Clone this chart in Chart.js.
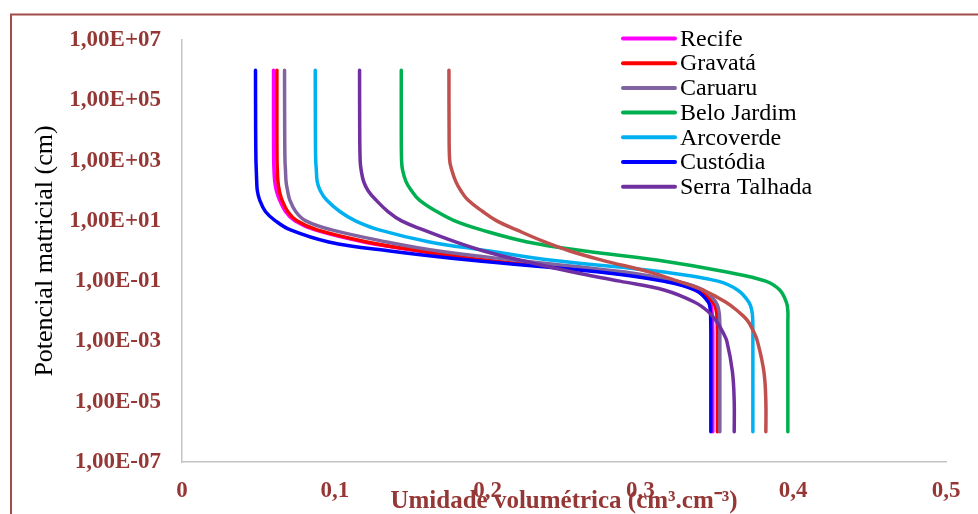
<!DOCTYPE html>
<html>
<head>
<meta charset="utf-8">
<script src="https://cdn.jsdelivr.net/npm/chart.js@4.4.1/dist/chart.umd.min.js"></script>
<style>
  html, body { margin: 0; padding: 0; background: #fff; }
</style>
</head>
<body>
<canvas id="myChart" width="978" height="514"></canvas>
<script>
// potencial matricial (cm), same levels for every curve
var suctions = [1e6, 1e4, 1e3, 500, 200, 100, 50, 20, 10, 5, 2, 1, 0.5, 0.2, 0.1, 0.05, 0.02, 0.01, 0.005, 0.002, 1e-3, 1e-4, 1e-5, 1e-6];

// umidade volumetrica (cm3.cm-3)
var recife       = [0.0599, 0.0599, 0.0600, 0.0602, 0.0607, 0.0618, 0.0638, 0.0678, 0.0738, 0.0870, 0.119, 0.155, 0.196, 0.276, 0.317, 0.336, 0.3455, 0.3468, 0.3472, 0.3474, 0.3474, 0.3474, 0.3474, 0.3474];
var gravata      = [0.0621, 0.0621, 0.0622, 0.0624, 0.0628, 0.0637, 0.0654, 0.0693, 0.0752, 0.0885, 0.121, 0.156, 0.1975, 0.2773, 0.3186, 0.3376, 0.3474, 0.3497, 0.3502, 0.3504, 0.3504, 0.3504, 0.3504, 0.3504];
var caruaru      = [0.0671, 0.0672, 0.0674, 0.0677, 0.0681, 0.0691, 0.0705, 0.0745, 0.0810, 0.098, 0.134, 0.168, 0.217, 0.2898, 0.323, 0.3415, 0.3494, 0.3514, 0.3519, 0.352, 0.352, 0.352, 0.352, 0.352];
var beloJardim   = [0.1435, 0.1435, 0.1437, 0.1443, 0.1466, 0.1502, 0.1552, 0.1670, 0.1785, 0.196, 0.226, 0.2636, 0.3107, 0.3566, 0.382, 0.3913, 0.3955, 0.3965, 0.3965, 0.3965, 0.3965, 0.3965, 0.3965, 0.3965];
var arcoverde    = [0.0872, 0.0873, 0.0875, 0.0879, 0.0885, 0.0905, 0.0945, 0.1035, 0.1135, 0.129, 0.162, 0.2014, 0.2407, 0.3153, 0.3507, 0.3638, 0.371, 0.373, 0.3735, 0.3736, 0.3736, 0.3736, 0.3736, 0.3736];
var custodia     = [0.0481, 0.0482, 0.0484, 0.0486, 0.0489, 0.0493, 0.0508, 0.0547, 0.0612, 0.071, 0.096, 0.136, 0.188, 0.273, 0.3147, 0.336, 0.3445, 0.3458, 0.346, 0.3461, 0.3461, 0.3461, 0.3461, 0.3461];
var serraTalhada = [0.1162, 0.1163, 0.1166, 0.1172, 0.1189, 0.1218, 0.1268, 0.1350, 0.1437, 0.158, 0.179, 0.1974, 0.221, 0.2557, 0.2865, 0.316, 0.3356, 0.3441, 0.3494, 0.354, 0.3566, 0.3602, 0.3614, 0.3614];
var semLegenda   = [0.1747, 0.1748, 0.1752, 0.1765, 0.1792, 0.1825, 0.1870, 0.1970, 0.206, 0.219, 0.2374, 0.2538, 0.2747, 0.3061, 0.3245, 0.3409, 0.356, 0.3638, 0.37, 0.3743, 0.3766, 0.3808, 0.3821, 0.3821];

var seriesNames  = ['Recife', 'Gravatá', 'Caruaru', 'Belo Jardim', 'Arcoverde', 'Custódia', 'Serra Talhada', ''];
var seriesValues = [recife, gravata, caruaru, beloJardim, arcoverde, custodia, serraTalhada, semLegenda];
var seriesColors = ['#FF00FF', '#FF0000', '#8064A2', '#00B050', '#00B0F0', '#0000FF', '#7030A0', '#C0504D'];

var yTickValues = [1e7, 1e5, 1e3, 1e1, 1e-1, 1e-3, 1e-5, 1e-7];
var yTickLabels = ['1,00E+07', '1,00E+05', '1,00E+03', '1,00E+01', '1,00E-01', '1,00E-03', '1,00E-05', '1,00E-07'];
var xTickValues = [0, 0.1, 0.2, 0.3, 0.4, 0.5];
var xTickLabels = ['0', '0,1', '0,2', '0,3', '0,4', '0,5'];

var darkRed = '#953735';
var serif = "'Liberation Serif', 'Times New Roman', serif";
Chart.defaults.font.family = serif;

var datasets = seriesValues.map(function (vals, i) {
  return {
    label: seriesNames[i],
    data: suctions.map(function (h, k) { return { x: vals[k], y: h }; }),
    borderColor: seriesColors[i],
    backgroundColor: seriesColors[i],
    borderWidth: 3.5,
    borderCapStyle: 'round',
    borderJoinStyle: 'round',
    pointRadius: 0,
    fill: false,
    tension: 0.4,
    order: seriesValues.length - i   // later series drawn on top, like the original
  };
});

// outer frame of the figure
var framePlugin = {
  id: 'frame',
  beforeDraw: function (chart) {
    var c = chart.ctx;
    c.save();
    c.strokeStyle = '#A34D4B';
    c.lineWidth = 2;
    c.strokeRect(11, 14.5, 1000, 600);
    c.restore();
  }
};

// legend sits inside the plot, top right
var legendPlugin = {
  id: 'innerLegend',
  afterDraw: function (chart) {
    var c = chart.ctx;
    var x0 = 623, x1 = 675, y0 = 38.5, step = 24.7;
    c.save();
    c.font = '24px ' + serif;
    c.textBaseline = 'middle';
    c.textAlign = 'left';
    c.lineCap = 'round';
    c.lineWidth = 4;
    var row = 0;
    chart.data.datasets.forEach(function (ds) {
      if (!ds.label) return;
      var y = y0 + row * step;
      c.strokeStyle = ds.borderColor;
      c.beginPath();
      c.moveTo(x0, y);
      c.lineTo(x1, y);
      c.stroke();
      c.fillStyle = '#000';
      c.fillText(ds.label, 680, y + 1);
      row++;
    });
    c.restore();
  }
};

var ctx = document.getElementById('myChart').getContext('2d');
var myChart = new Chart(ctx, {
  type: 'line',
  data: { datasets: datasets },
  options: {
    responsive: false,
    devicePixelRatio: 1,
    animation: false,
    indexAxis: 'y',
    layout: { padding: { top: 40, right: 32, left: 0, bottom: 0 } },
    plugins: {
      legend: { display: false },
      tooltip: { enabled: false }
    },
    scales: {
      x: {
        type: 'linear',
        position: 'bottom',
        min: 0,
        max: 0.5,
        grid: { display: false, drawTicks: false },
        border: { display: true, color: '#C4C4C4', width: 1.5 },
        afterBuildTicks: function (scale) {
          scale.ticks = xTickValues.map(function (v) { return { value: v }; });
        },
        ticks: {
          autoSkip: false,
          maxRotation: 0,
          padding: 15,
          color: darkRed,
          font: { size: 23, weight: 'bold' },
          callback: function (v, i) { return xTickLabels[i]; }
        },
        title: {
          display: true,
          text: 'Umidade volumétrica (cm³.cm⁻³)',
          color: darkRed,
          font: { size: 25, weight: 'bold', lineHeight: 1 },
          padding: { top: 0, bottom: 0 }
        },
        afterFit: function (scale) { scale.height = 52; }
      },
      y: {
        type: 'logarithmic',
        position: 'left',
        min: 1e-7,
        max: 1e7,
        grid: { display: false, drawTicks: false },
        border: { display: true, color: '#C4C4C4', width: 1.5 },
        afterBuildTicks: function (scale) {
          scale.ticks = yTickValues.map(function (v) { return { value: v }; });
        },
        ticks: {
          autoSkip: false,
          padding: 21,
          color: darkRed,
          font: { size: 23, weight: 'bold' },
          callback: function (v, i) { return yTickLabels[i]; }
        },
        title: {
          display: true,
          text: 'Potencial matricial (cm)',
          color: '#000',
          font: { size: 26, lineHeight: 1 },
          padding: { top: 32, bottom: 0 }
        },
        afterFit: function (scale) { scale.width = 182; }
      }
    }
  },
  plugins: [framePlugin, legendPlugin]
});
</script>
</body>
</html>
